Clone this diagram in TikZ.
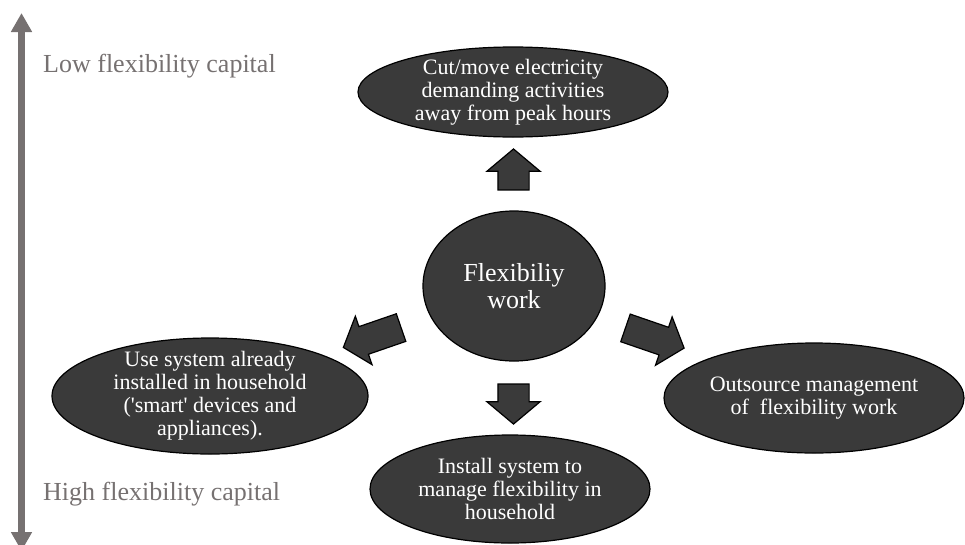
\documentclass[tikz,border=0pt]{standalone}
\usepackage{fontspec}
\setmainfont{Liberation Serif}
\usetikzlibrary{shapes.geometric,shapes.arrows,arrows.meta}
\definecolor{bubblefill}{HTML}{3A3A3A}
\definecolor{axisgray}{HTML}{767171}
\begin{document}
\begin{tikzpicture}[x=1pt,y=-1pt,
  bubble/.style={ellipse,draw=black,line width=1.2pt,fill=bubblefill,inner sep=0pt},
  bubbletext/.style={text=white,align=center,inner sep=0pt,
    font=\fontsize{22}{23}\selectfont},
  blockarrow/.style={single arrow,draw=black,line width=1.2pt,fill=bubblefill,
    inner xsep=0pt,inner ysep=15pt,single arrow head extend=11pt,
    single arrow tip angle=100},
  scalelabel/.style={text=axisgray,anchor=base west,inner sep=0pt,
    font=\fontsize{26}{30}\selectfont},
  axis/.style={draw=axisgray,line width=7pt,
    {Triangle[width=20pt,length=19pt]}-{Triangle[width=20pt,length=19pt]}}
]
\useasboundingbox (0,0) rectangle (965,544);

% capital axis
\coordinate (axTop) at (21.5,13);
\coordinate (axBot) at (21.5,551);
\draw[axis] (axBot) -- (axTop);
\node[scalelabel] (low) at (43,72) {Low flexibility capital};
\node[scalelabel] (high) at (43,500) {High flexibility capital};

% centre and the four strategies
\node[bubble,minimum width=182pt,minimum height=150pt,
  label={[bubbletext,font=\fontsize{26}{27}\selectfont]center:Flexibiliy\\work}]
  (work) at (514,286) {};
\node[bubble,minimum width=310pt,minimum height=90pt,
  label={[bubbletext]center:Cut/move electricity\\demanding activities\\away from peak hours}]
  (cut) at (513,92) {};
\node[bubble,minimum width=316pt,minimum height=116pt,
  label={[bubbletext]center:Use system already\\installed in household\\(\textquotesingle smart\textquotesingle{} devices and\\appliances).}]
  (use) at (210,396) {};
\node[bubble,minimum width=300pt,minimum height=110pt,
  label={[bubbletext]center:Outsource management\\of\ \ flexibility work}]
  (out) at (814,398) {};
\node[bubble,minimum width=280pt,minimum height=108pt,
  label={[bubbletext]center:Install system to\\manage flexibility in\\household}]
  (inst) at (510,489) {};

% block arrows from the centre
\node[blockarrow,minimum height=41pt,rotate=90] (toCut) at (513.5,176) {};
\node[blockarrow,minimum height=40pt,rotate=-90] (toInst) at (513.5,397.5) {};
\node[blockarrow,minimum height=62pt,rotate=-19,inner ysep=14pt] (toOut) at (649,336) {};
\node[blockarrow,minimum height=61pt,rotate=199,inner ysep=14pt] (toUse) at (378,335.5) {};
\end{tikzpicture}
\end{document}
